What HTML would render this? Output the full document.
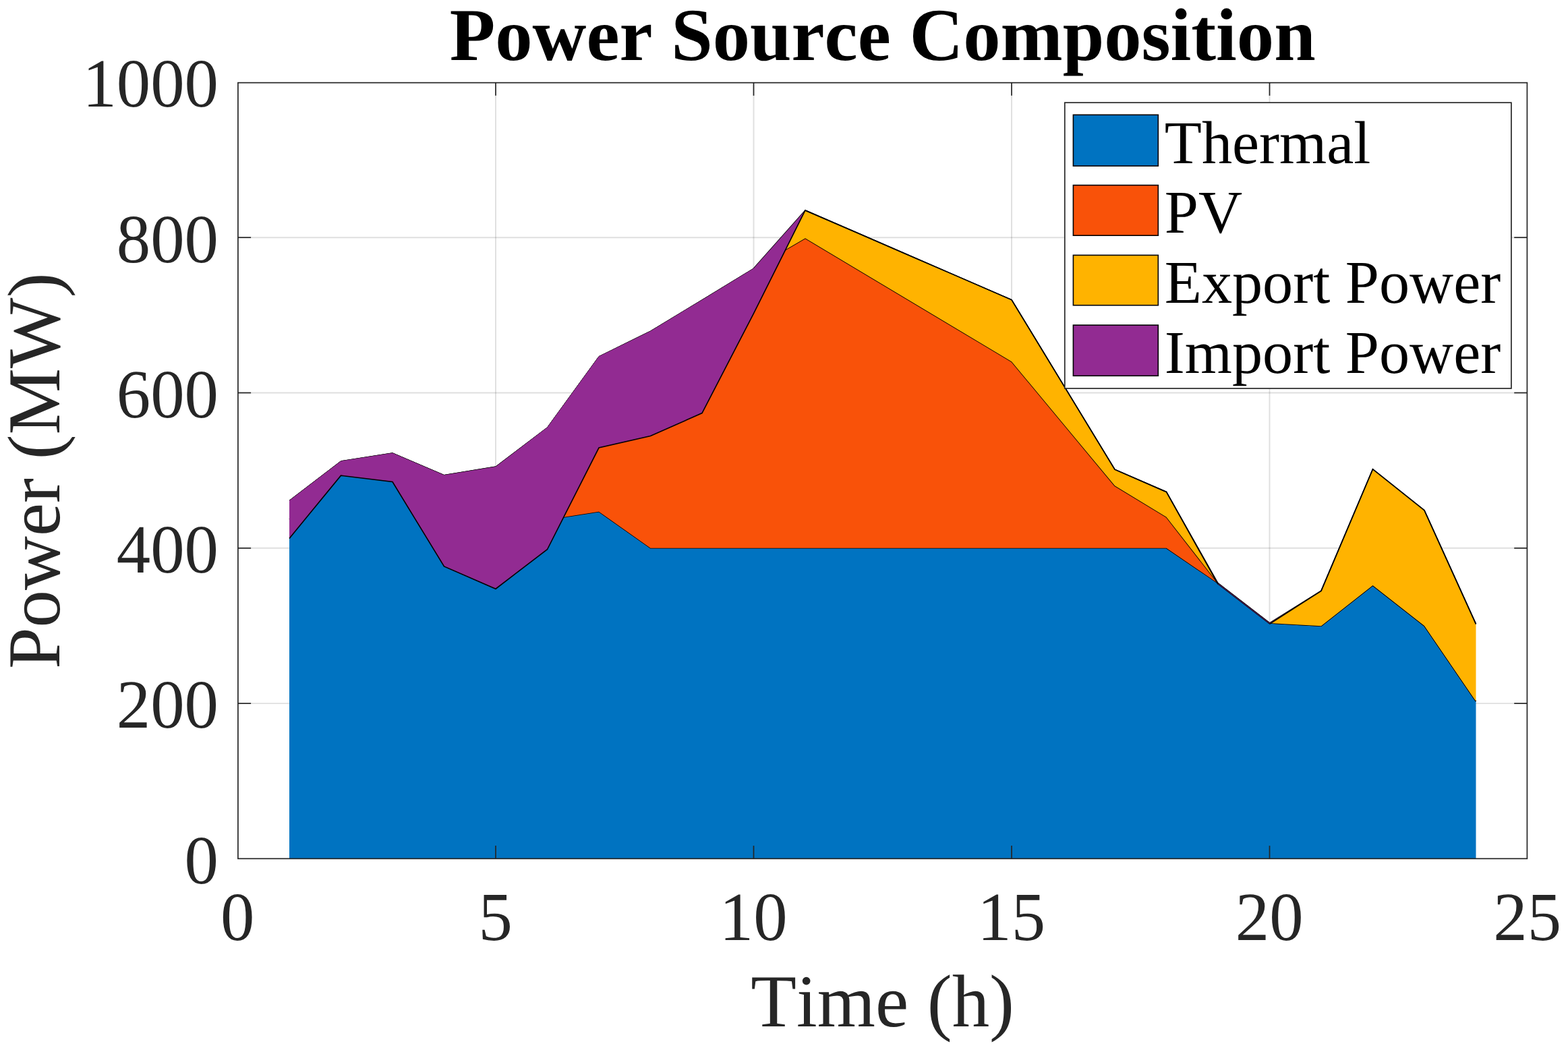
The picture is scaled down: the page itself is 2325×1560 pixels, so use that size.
<!DOCTYPE html>
<html lang="en">
<head>
<meta charset="utf-8">
<title>Power Source Composition</title>
<style>
html,body{margin:0;padding:0;background:#fff;}
body{width:2325px;height:1560px;overflow:hidden;}
svg{display:block;}
text{font-family:"Liberation Serif",serif;font-kerning:none;font-variant-ligatures:none;text-rendering:geometricPrecision;}
.tick{font-size:100.8px;fill:#262626;}
.lab{font-size:110.8px;fill:#262626;}
.ttl{font-size:110.6px;font-weight:bold;fill:#000;}
.leg{font-size:90.2px;fill:#000;}
</style>
</head>
<body>
<svg width="2325" height="1560" viewBox="0 0 2325 1560">
<rect x="0" y="0" width="2325" height="1560" fill="#ffffff"/>

<g stroke="#262626" stroke-opacity="0.15" stroke-width="1.9" fill="none">
<line x1="735.00" y1="122.65" x2="735.00" y2="1273.30"/>
<line x1="1117.50" y1="122.65" x2="1117.50" y2="1273.30"/>
<line x1="1500.00" y1="122.65" x2="1500.00" y2="1273.30"/>
<line x1="1882.50" y1="122.65" x2="1882.50" y2="1273.30"/>
<line x1="352.90" y1="1043.10" x2="2264.40" y2="1043.10"/>
<line x1="352.90" y1="812.80" x2="2264.40" y2="812.80"/>
<line x1="352.90" y1="582.50" x2="2264.40" y2="582.50"/>
<line x1="352.90" y1="352.20" x2="2264.40" y2="352.20"/>
</g>
<g stroke-linejoin="miter" stroke-linecap="butt" stroke-width="1.6">
<polygon points="429.00,770.31 505.50,694.43 582.00,693.16 658.50,772.21 735.00,782.57 811.50,770.77 888.00,758.68 964.50,812.80 1041.00,812.80 1117.50,812.80 1194.00,812.80 1270.50,812.80 1347.00,812.80 1423.50,812.80 1500.00,812.80 1576.50,812.80 1653.00,812.80 1729.50,812.80 1806.00,864.96 1882.50,923.92 1959.00,928.18 2035.50,868.07 2112.00,928.07 2188.50,1039.99 2188.50,1273.40 2112.00,1273.40 2035.50,1273.40 1959.00,1273.40 1882.50,1273.40 1806.00,1273.40 1729.50,1273.40 1653.00,1273.40 1576.50,1273.40 1500.00,1273.40 1423.50,1273.40 1347.00,1273.40 1270.50,1273.40 1194.00,1273.40 1117.50,1273.40 1041.00,1273.40 964.50,1273.40 888.00,1273.40 811.50,1273.40 735.00,1273.40 658.50,1273.40 582.00,1273.40 505.50,1273.40 429.00,1273.40" fill="#0073C1" stroke="none"/>
<polyline points="429.00,770.31 505.50,694.43 582.00,693.16 658.50,772.21 735.00,782.57 811.50,770.77 888.00,758.68 964.50,812.80 1041.00,812.80 1117.50,812.80 1194.00,812.80 1270.50,812.80 1347.00,812.80 1423.50,812.80 1500.00,812.80 1576.50,812.80 1653.00,812.80 1729.50,812.80 1806.00,864.96 1882.50,923.92 1959.00,928.18 2035.50,868.07 2112.00,928.07 2188.50,1039.99" fill="none" stroke="#000" stroke-width="1.6"/>
<polygon points="429.00,742.21 505.50,683.72 582.00,671.74 658.50,704.44 735.00,691.89 811.50,633.86 888.00,528.61 964.50,490.96 1041.00,444.67 1117.50,398.03 1194.00,353.35 1270.50,399.07 1347.00,444.78 1423.50,490.50 1500.00,536.21 1576.50,628.27 1653.00,720.33 1729.50,766.74 1806.00,864.96 1882.50,923.92 1959.00,928.18 2035.50,868.07 2112.00,928.07 2188.50,1039.99 2188.50,1039.99 2112.00,928.07 2035.50,868.07 1959.00,928.18 1882.50,923.92 1806.00,864.96 1729.50,812.80 1653.00,812.80 1576.50,812.80 1500.00,812.80 1423.50,812.80 1347.00,812.80 1270.50,812.80 1194.00,812.80 1117.50,812.80 1041.00,812.80 964.50,812.80 888.00,758.68 811.50,770.77 735.00,782.57 658.50,772.21 582.00,693.16 505.50,694.43 429.00,770.31" fill="#F95209" stroke="none"/>
<polyline points="429.00,742.21 505.50,683.72 582.00,671.74 658.50,704.44 735.00,691.89 811.50,633.86 888.00,528.61 964.50,490.96 1041.00,444.67 1117.50,398.03" fill="none" stroke="#000" stroke-width="1.0"/>
<polyline points="1117.50,398.03 1194.00,353.35 1270.50,399.07 1347.00,444.78 1423.50,490.50 1500.00,536.21 1576.50,628.27 1653.00,720.33 1729.50,766.74 1806.00,864.96 1882.50,923.92 1959.00,928.18 2035.50,868.07 2112.00,928.07 2188.50,1039.99" fill="none" stroke="#000" stroke-width="1.6"/>
<polygon points="429.00,742.21 505.50,683.72 582.00,671.74 658.50,704.44 735.00,691.89 811.50,633.86 888.00,528.61 964.50,490.96 1041.00,444.67 1117.50,398.03 1194.00,311.90 1270.50,345.06 1347.00,378.22 1423.50,411.39 1500.00,444.55 1576.50,570.35 1653.00,696.15 1729.50,729.43 1806.00,864.96 1882.50,923.92 1959.00,876.13 2035.50,695.69 2112.00,756.72 2188.50,925.30 2188.50,1039.99 2112.00,928.07 2035.50,868.07 1959.00,928.18 1882.50,923.92 1806.00,864.96 1729.50,766.74 1653.00,720.33 1576.50,628.27 1500.00,536.21 1423.50,490.50 1347.00,444.78 1270.50,399.07 1194.00,353.35 1117.50,398.03 1041.00,444.67 964.50,490.96 888.00,528.61 811.50,633.86 735.00,691.89 658.50,704.44 582.00,671.74 505.50,683.72 429.00,742.21" fill="#FFB300" stroke="none"/>
<polyline points="429.00,742.21 505.50,683.72 582.00,671.74 658.50,704.44 735.00,691.89 811.50,633.86 888.00,528.61 964.50,490.96 1041.00,444.67 1117.50,398.03" fill="none" stroke="#000" stroke-width="1.0"/>
<polyline points="1117.50,398.03 1194.00,311.90 1270.50,345.06 1347.00,378.22 1423.50,411.39 1500.00,444.55 1576.50,570.35 1653.00,696.15 1729.50,729.43 1806.00,864.96" fill="none" stroke="#000" stroke-width="1.6"/>
<polyline points="1806.00,864.96 1882.50,923.92" fill="none" stroke="#000" stroke-width="1.0"/>
<polyline points="1882.50,923.92 1959.00,876.13 2035.50,695.69 2112.00,756.72 2188.50,925.30" fill="none" stroke="#000" stroke-width="1.6"/>
<polygon points="429.00,798.41 505.50,705.13 582.00,714.58 658.50,839.98 735.00,873.25 811.50,814.76 888.00,664.03 964.50,646.52 1041.00,612.55 1117.50,464.82 1194.00,311.90 1270.50,345.06 1347.00,378.22 1423.50,411.39 1500.00,444.55 1576.50,570.35 1653.00,696.15 1729.50,729.43 1806.00,866.34 1882.50,925.30 1959.00,876.13 2035.50,695.69 2112.00,756.72 2188.50,925.30 2188.50,925.30 2112.00,756.72 2035.50,695.69 1959.00,876.13 1882.50,923.92 1806.00,864.96 1729.50,729.43 1653.00,696.15 1576.50,570.35 1500.00,444.55 1423.50,411.39 1347.00,378.22 1270.50,345.06 1194.00,311.90 1117.50,398.03 1041.00,444.67 964.50,490.96 888.00,528.61 811.50,633.86 735.00,691.89 658.50,704.44 582.00,671.74 505.50,683.72 429.00,742.21" fill="#922B92" stroke="none"/>
<polyline points="429.00,798.41 505.50,705.13 582.00,714.58 658.50,839.98 735.00,873.25 811.50,814.76 888.00,664.03 964.50,646.52 1041.00,612.55 1117.50,464.82 1194.00,311.90 1270.50,345.06 1347.00,378.22 1423.50,411.39 1500.00,444.55 1576.50,570.35 1653.00,696.15 1729.50,729.43 1806.00,866.34" fill="none" stroke="#000" stroke-width="1.6"/>
<polyline points="1806.00,866.34 1882.50,925.30" fill="none" stroke="#000" stroke-width="1.0"/>
<polyline points="1882.50,925.30 1959.00,876.13 2035.50,695.69 2112.00,756.72 2188.50,925.30" fill="none" stroke="#000" stroke-width="1.6"/>
</g>
<g stroke="#262626" stroke-width="1.7" fill="none" stroke-linecap="butt">
<rect x="352.90" y="122.65" width="1911.50" height="1150.65"/>
<line x1="735.00" y1="1273.30" x2="735.00" y2="1254.10"/>
<line x1="735.00" y1="122.65" x2="735.00" y2="141.85"/>
<line x1="1117.50" y1="1273.30" x2="1117.50" y2="1254.10"/>
<line x1="1117.50" y1="122.65" x2="1117.50" y2="141.85"/>
<line x1="1500.00" y1="1273.30" x2="1500.00" y2="1254.10"/>
<line x1="1500.00" y1="122.65" x2="1500.00" y2="141.85"/>
<line x1="1882.50" y1="1273.30" x2="1882.50" y2="1254.10"/>
<line x1="1882.50" y1="122.65" x2="1882.50" y2="141.85"/>
<line x1="352.90" y1="1043.10" x2="372.10" y2="1043.10"/>
<line x1="2264.40" y1="1043.10" x2="2245.20" y2="1043.10"/>
<line x1="352.90" y1="812.80" x2="372.10" y2="812.80"/>
<line x1="2264.40" y1="812.80" x2="2245.20" y2="812.80"/>
<line x1="352.90" y1="582.50" x2="372.10" y2="582.50"/>
<line x1="2264.40" y1="582.50" x2="2245.20" y2="582.50"/>
<line x1="352.90" y1="352.20" x2="372.10" y2="352.20"/>
<line x1="2264.40" y1="352.20" x2="2245.20" y2="352.20"/>
</g>
<text class="tick" transform="translate(352.20,1393.9) scale(1,1.015)" text-anchor="middle">0</text>
<text class="tick" transform="translate(734.70,1393.9) scale(1,1.015)" text-anchor="middle">5</text>
<text class="tick" transform="translate(1117.20,1393.9) scale(1,1.015)" text-anchor="middle">10</text>
<text class="tick" transform="translate(1499.70,1393.9) scale(1,1.015)" text-anchor="middle">15</text>
<text class="tick" transform="translate(1882.20,1393.9) scale(1,1.015)" text-anchor="middle">20</text>
<text class="tick" transform="translate(2264.70,1393.9) scale(1,1.015)" text-anchor="middle">25</text>
<text class="tick" transform="translate(324.0,1309.70) scale(1,1.015)" text-anchor="end">0</text>
<text class="tick" transform="translate(324.0,1079.40) scale(1,1.015)" text-anchor="end">200</text>
<text class="tick" transform="translate(324.0,849.10) scale(1,1.015)" text-anchor="end">400</text>
<text class="tick" transform="translate(324.0,618.80) scale(1,1.015)" text-anchor="end">600</text>
<text class="tick" transform="translate(324.0,388.50) scale(1,1.015)" text-anchor="end">800</text>
<text class="tick" transform="translate(324.0,158.20) scale(1,1.015)" text-anchor="end">1000</text>
<text class="lab" x="1308.65" y="1521.7" text-anchor="middle">Time (h)</text>
<text class="lab" transform="translate(87.9,698.27) rotate(-90)" text-anchor="middle">Power (MW)</text>
<text class="ttl" x="1308.65" y="89.4" text-anchor="middle">Power Source Composition</text>
<rect x="1578.8" y="152.2" width="662.10" height="423.80" fill="#fff" stroke="#262626" stroke-width="1.7"/>
<rect x="1591.4" y="170.3" width="125.9" height="75.80" fill="#0073C1" stroke="#000" stroke-width="1.6"/>
<text class="leg" x="1726.8" y="242.1">Thermal</text>
<rect x="1591.4" y="274.6" width="125.9" height="74.60" fill="#F95209" stroke="#000" stroke-width="1.6"/>
<text class="leg" x="1726.8" y="345.2">PV</text>
<rect x="1591.4" y="378.4" width="125.9" height="74.30" fill="#FFB300" stroke="#000" stroke-width="1.6"/>
<text class="leg" x="1726.8" y="449.0">Export Power</text>
<rect x="1591.4" y="482.1" width="125.9" height="75.20" fill="#922B92" stroke="#000" stroke-width="1.6"/>
<text class="leg" x="1726.8" y="552.7">Import Power</text>
</svg>
</body>
</html>
